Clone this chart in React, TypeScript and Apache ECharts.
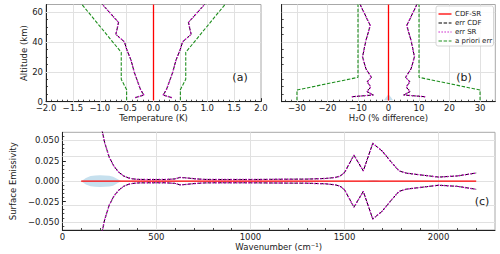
import React, { useEffect, useRef } from 'react';
import * as echarts from 'echarts';

// ---------- Panel (a): temperature ----------
const tempErrAlt = [2.7, 4.5, 8, 11, 20, 28, 35, 40, 45, 53, 65];
const tempErr = [0.34, 0.18, 0.24, 0.27, 0.36, 0.42, 0.5, 0.54, 0.7, 0.65, 0.95];
const tempAprAlt = [1, 8, 15, 33, 65];
const tempApr = [0.5, 0.5, 0.6, 0.6, 1.33];
const srAlt = [0.8, 65];
const srTemp = [0, 0];

// ---------- Panel (b): H2O ----------
const h2oErrAlt = [3.3, 4.5, 6.8, 9.8, 13.3, 16.3, 22, 30, 40, 51, 65];
const h2oErr = [12, 5.0, 7.1, 5.8, 7.0, 5.6, 7.4, 8.5, 7.5, 6.0, 9.3];
const h2oAprAlt = [1, 7.8, 16.3, 65];
const h2oApr = [30, 30, 10, 10];
const srH2O = [0, 0];
const h2oBandAlt = [1, 3, 5];
const h2oBandHalf = [1.5, 0.8, 0];

// ---------- Panel (c): surface emissivity ----------
const wn = [100, 150, 200, 225, 250, 275, 300, 325, 350, 375, 400, 450, 500, 550, 600, 625, 650, 700, 750, 800, 900, 1000, 1100, 1200, 1300, 1400, 1450, 1475, 1500, 1550, 1600, 1650, 1700, 1750, 1790, 1830, 1900, 2000, 2100, 2200];
const emisErr = [0.3, 0.16, 0.075, 0.047, 0.029, 0.018, 0.011, 0.0065, 0.004, 0.0028, 0.0022, 0.002, 0.002, 0.002, 0.0028, 0.0045, 0.0042, 0.003, 0.0022, 0.002, 0.002, 0.002, 0.0022, 0.0024, 0.0025, 0.0033, 0.0045, 0.006, 0.0105, 0.032, 0.0125, 0.0465, 0.037, 0.023, 0.0125, 0.0098, 0.0078, 0.005, 0.0064, 0.01];
const srWn = [100, 2200];
const srEmis = [0, 0];
const emBandW = [100, 125, 150, 175, 200, 225, 250, 270, 290, 310];
const emBandHalf = [0, 0.004, 0.0062, 0.007, 0.0072, 0.007, 0.0065, 0.0055, 0.003, 0.0005];
const emBand2W = [1615, 1635, 1655, 1675, 1695];
const emBand2Half = [0, 0.0008, 0.001, 0.0008, 0];

// ---------- ticks ----------
const tempTicks = [-2.0, -1.5, -1.0, -0.5, 0.0, 0.5, 1.0, 1.5, 2.0];
const altTicks = [0, 20, 40, 60];
const h2oTicks = [-30, -20, -10, 0, 10, 20, 30];
const wnTicks = [0, 500, 1000, 1500, 2000];
const emTicks = [-0.05, -0.025, 0, 0.025, 0.05];

const legendLabels = ['CDF-SR', 'err CDF', 'err SR', 'a priori err'];

const FONT = "'DejaVu Sans', sans-serif";
const TXT = '#1a1a1a';
const RED = '#ff0000';
const BLK = '#000000';
const MAG = '#c400c4';
const GRN = '#1f8f1f';
const BLUE = '#c6e0ee';
const DASH = [3.5, 1.6];
const DOT = [1.3, 1.7];

const minus = (s: string) => s.replace('-', '\u2212');

function minorVals(min: number, max: number, step: number, majors: number[]) {
  const out: number[] = [];
  for (let k = Math.ceil(min / step - 1e-9); k <= Math.floor(max / step + 1e-9); k++) {
    const v = Math.round(k * step * 1e6) / 1e6;
    if (v <= min || v >= max) continue;
    if (majors.some((m) => Math.abs(m - v) < step * 1e-3)) continue;
    out.push(v);
  }
  return out;
}

function axisPair(
  gridIndex: number,
  dim: 'x' | 'y',
  min: number,
  max: number,
  majors: number[],
  minorStep: number,
  fmt: (v: number) => string,
  showLabel: boolean,
  name?: string,
  nameGap?: number
) {
  const position = dim === 'x' ? 'bottom' : 'left';
  const major: any = {
    type: 'value',
    gridIndex,
    min,
    max,
    position,
    name: name || '',
    nameLocation: 'middle',
    nameGap: nameGap || 0,
    nameTextStyle: { fontSize: 8.5, color: TXT, fontFamily: FONT },
    axisLine: { show: true, onZero: false, lineStyle: { color: '#222', width: 1 } },
    axisTick: { show: true, inside: true, length: 3.5, customValues: majors, lineStyle: { color: '#222', width: 1 } },
    axisLabel: {
      show: showLabel,
      customValues: majors,
      formatter: (v: number) => fmt(v),
      fontSize: 8.5,
      color: TXT,
      fontFamily: FONT,
      margin: dim === 'x' ? 2 : 3,
    },
    splitLine: { show: false },
  };
  const minor: any = {
    type: 'value',
    gridIndex,
    min,
    max,
    position,
    axisLine: { show: false, onZero: false },
    axisTick: { show: true, inside: true, length: 2, customValues: minorVals(min, max, minorStep, majors), lineStyle: { color: '#222', width: 0.8 } },
    axisLabel: { show: false },
    splitLine: { show: false },
  };
  return [major, minor];
}

function gridLines(xi: number, yi: number, xs: number[], ys: number[], anchor: number[]) {
  return {
    type: 'line',
    xAxisIndex: xi,
    yAxisIndex: yi,
    data: [anchor],
    showSymbol: false,
    symbol: 'none',
    silent: true,
    z: 1,
    lineStyle: { opacity: 0 },
    markLine: {
      silent: true,
      z: 1,
      symbol: ['none', 'none'],
      label: { show: false },
      animation: false,
      emphasis: { disabled: true },
      lineStyle: { color: '#e1e1e1', type: 'solid', width: 1 },
      data: [...xs.map((v) => ({ xAxis: v })), ...ys.map((v) => ({ yAxis: v }))],
    },
  };
}

function bandSeries(xi: number, yi: number, pts: number[][]) {
  return {
    type: 'custom',
    xAxisIndex: xi,
    yAxisIndex: yi,
    coordinateSystem: 'cartesian2d',
    data: [pts[0]],
    silent: true,
    z: 2,
    clip: true,
    renderItem: (_p: any, api: any) => ({
      type: 'polygon',
      shape: { points: pts.map((p) => api.coord(p)) },
      style: { fill: BLUE },
    }),
  };
}

function lineS(xi: number, yi: number, data: number[][], color: string, width: number, type: any, z = 3) {
  return {
    type: 'line',
    xAxisIndex: xi,
    yAxisIndex: yi,
    data,
    showSymbol: false,
    symbol: 'none',
    silent: true,
    z,
    lineStyle: { color, width, type },
  };
}

const pairs = (xs: number[], ys: number[], sign = 1) => xs.map((v, i) => [sign * v, ys[i]]);
const inner = (ticks: number[], min: number, max: number) => ticks.filter((t) => t > min && t < max);

export default function App() {
  const ref = useRef<HTMLDivElement>(null);
  useEffect(() => {
    if (!ref.current) return;
    const chart = echarts.init(ref.current, undefined, { renderer: 'svg' });

    const [ax0, ax1] = axisPair(0, 'x', -2, 2, tempTicks, 0.1, (v) => minus(v.toFixed(1)), true, 'Temperature (K)', 10);
    const [ay0, ay1] = axisPair(0, 'y', 0, 65, altTicks, 5, (v) => String(v), true, 'Altitude (km)', 12);
    const [bx0, bx1] = axisPair(1, 'x', -35, 35, h2oTicks, 2, (v) => minus(String(v)), true, 'H\u2082O (% difference)', 10);
    const [by0, by1] = axisPair(1, 'y', 0, 65, altTicks, 5, (v) => String(v), false);
    const [cx0, cx1] = axisPair(2, 'x', 0, 2300, wnTicks, 100, (v) => String(v), true, 'Wavenumber (cm\u207B\u00B9)', 12);
    const [cy0, cy1] = axisPair(2, 'y', -0.06, 0.06, emTicks, 0.005, (v) => minus(v.toFixed(3)), true, 'Surface Emissivity', 33);

    const h2oBand = [
      ...h2oBandAlt.map((a, i) => [h2oBandHalf[i], a]),
      ...h2oBandAlt.map((a, i) => [-h2oBandHalf[i], a]).reverse(),
    ];
    const emBand = [
      ...emBandW.map((w, i) => [w, emBandHalf[i]]),
      ...emBandW.map((w, i) => [w, -emBandHalf[i]]).reverse(),
    ];
    const emBand2 = [
      ...emBand2W.map((w, i) => [w, emBand2Half[i]]),
      ...emBand2W.map((w, i) => [w, -emBand2Half[i]]).reverse(),
    ];

    const legendRows = [
      { color: RED, dash: null as any, width: 1.3 },
      { color: BLK, dash: DASH, width: 1.1 },
      { color: MAG, dash: DOT, width: 1.2 },
      { color: GRN, dash: DASH, width: 1.1 },
    ];
    const rowY = [14, 23, 32, 41];
    const legendGraphics: any[] = [
      {
        type: 'rect',
        shape: { x: 436, y: 6, width: 57.5, height: 40, r: 2 },
        style: { fill: 'rgba(255,255,255,0.85)', stroke: '#cccccc', lineWidth: 0.8 },
        z: 10,
      },
    ];
    legendLabels.forEach((lab, i) => {
      const r = legendRows[i];
      legendGraphics.push({
        type: 'line',
        shape: { x1: 438.5, y1: rowY[i], x2: 451.5, y2: rowY[i] },
        style: { stroke: r.color, lineWidth: r.width, lineDash: r.dash || undefined },
        z: 11,
      });
      legendGraphics.push({
        type: 'text',
        x: 455,
        y: rowY[i],
        style: { text: lab, fontSize: 7, fill: TXT, fontFamily: FONT, align: 'left', verticalAlign: 'middle' },
        z: 11,
      });
    });
    const panelLabels = [
      { t: '(a)', x: 240, y: 77.3 },
      { t: '(b)', x: 464, y: 77.3 },
      { t: '(c)', x: 482, y: 201.7 },
    ].map((p) => ({
      type: 'text',
      x: p.x,
      y: p.y,
      style: { text: p.t, fontSize: 11, fill: TXT, fontFamily: FONT, align: 'center', verticalAlign: 'middle' },
      z: 11,
    }));

    const option: any = {
      animation: false,
      backgroundColor: '#ffffff',
      textStyle: { fontFamily: FONT },
      grid: [
        { left: 46, top: 4.5, width: 215, height: 97.2, show: true, borderColor: '#a8a8a8', borderWidth: 1 },
        { left: 281.7, top: 4.5, width: 213.6, height: 97.2, show: true, borderColor: '#a8a8a8', borderWidth: 1 },
        { left: 47, top: 132.3, width: 448, height: 97.7, show: true, borderColor: '#a8a8a8', borderWidth: 1 },
      ],
      xAxis: [ax0, ax1, bx0, bx1, cx0, cx1],
      yAxis: [ay0, ay1, by0, by1, cy0, cy1],
      series: [
        // grid lines
        gridLines(0, 0, inner(tempTicks, -2, 2), inner(altTicks, 0, 65), [0, 30]),
        gridLines(2, 2, inner(h2oTicks, -35, 35), inner(altTicks, 0, 65), [0, 30]),
        gridLines(4, 4, inner(wnTicks, 0, 2300), inner(emTicks, -0.06, 0.06), [1000, 0]),
        // shaded spreads
        bandSeries(2, 2, h2oBand),
        bandSeries(4, 4, emBand),
        bandSeries(4, 4, emBand2),
        // panel (a)
        lineS(0, 0, pairs(srTemp, srAlt), RED, 1.3, 'solid'),
        lineS(0, 0, pairs(tempErr, tempErrAlt), BLK, 1.0, DASH),
        lineS(0, 0, pairs(tempErr, tempErrAlt, -1), BLK, 1.0, DASH),
        lineS(0, 0, pairs(tempErr, tempErrAlt), MAG, 1.4, DOT, 4),
        lineS(0, 0, pairs(tempErr, tempErrAlt, -1), MAG, 1.4, DOT, 4),
        lineS(0, 0, pairs(tempApr, tempAprAlt), GRN, 1.1, DASH),
        lineS(0, 0, pairs(tempApr, tempAprAlt, -1), GRN, 1.1, DASH),
        // panel (b)
        lineS(2, 2, pairs(srH2O, srAlt), RED, 1.3, 'solid'),
        lineS(2, 2, pairs(h2oErr, h2oErrAlt), BLK, 1.0, DASH),
        lineS(2, 2, pairs(h2oErr, h2oErrAlt, -1), BLK, 1.0, DASH),
        lineS(2, 2, pairs(h2oErr, h2oErrAlt), MAG, 1.4, DOT, 4),
        lineS(2, 2, pairs(h2oErr, h2oErrAlt, -1), MAG, 1.4, DOT, 4),
        lineS(2, 2, pairs(h2oApr, h2oAprAlt), GRN, 1.1, DASH),
        lineS(2, 2, pairs(h2oApr, h2oAprAlt, -1), GRN, 1.1, DASH),
        // panel (c)
        lineS(4, 4, srWn.map((w, i) => [w, srEmis[i]]), RED, 1.3, 'solid'),
        lineS(4, 4, wn.map((w, i) => [w, emisErr[i]]), BLK, 1.0, DASH),
        lineS(4, 4, wn.map((w, i) => [w, -emisErr[i]]), BLK, 1.0, DASH),
        lineS(4, 4, wn.map((w, i) => [w, emisErr[i]]), MAG, 1.4, DOT, 4),
        lineS(4, 4, wn.map((w, i) => [w, -emisErr[i]]), MAG, 1.4, DOT, 4),
      ],
      graphic: [...legendGraphics, ...panelLabels],
    };
    chart.setOption(option);
    return () => chart.dispose();
  }, []);
  return (
    <div
      ref={ref}
      style={{ position: 'absolute', left: 0, top: 0, width: 500, height: 254, background: '#fff' }}
    />
  );
}
